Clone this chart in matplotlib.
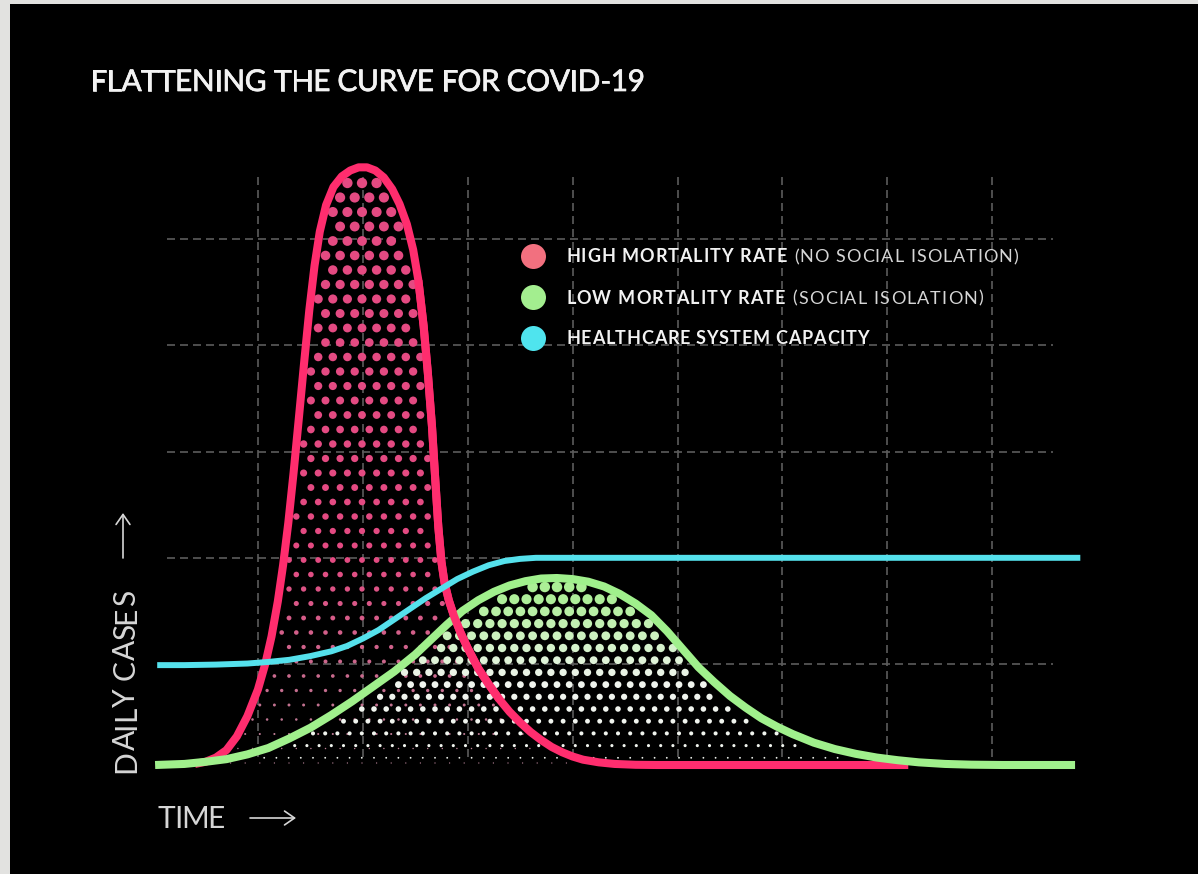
import numpy as np
import matplotlib
matplotlib.use("Agg")
import matplotlib.pyplot as plt
from matplotlib import ft2font
from matplotlib.ft2font import FT2Font
from matplotlib.font_manager import FontProperties, findfont
from matplotlib.patches import Rectangle
from matplotlib.lines import Line2D
from matplotlib import patheffects

# ---------------------------------------------------------------- data
# time axis in days, daily cases in arbitrary units
days_high = [4.0, 5.0, 6.0, 7.0, 8.0, 9.0, 10.0, 10.7, 11.3, 11.9, 12.4, 12.9,
             13.4, 13.9, 14.4, 14.9, 15.4, 15.9, 16.5, 17.2, 18.0, 18.8, 19.6,
             20.4, 21.2, 22.0, 22.8, 23.5, 24.2, 24.8, 25.3, 25.8, 26.2, 26.6,
             26.9, 27.2, 27.5, 27.8, 28.2, 28.7, 29.3, 30.0, 31.0, 32.0, 33.0,
             34.0, 35.0, 36.0, 37.0, 38.0, 39.0, 40.0, 41.0, 42.5, 44.0, 46.0,
             48.0, 72.0]
cases_high = [1, 3, 7, 14, 27, 46, 71, 95, 121, 154, 188, 228,
              275, 326, 378, 428, 470, 502, 527, 544, 554, 559.5, 562.5,
              562.5, 559.5, 553, 542, 528, 509, 485, 456, 413, 369, 318,
              270, 224, 191, 171, 155, 140, 125, 110, 91, 76, 62,
              50, 40, 31, 23.5, 17, 12, 8, 5, 2.5, 1, 0.2,
              0, 0]

days_low = [0.2, 3, 5, 7, 9, 11, 13, 15, 17, 19, 21, 23, 25, 26.5, 28, 29.5,
            31, 32.5, 34, 35.5, 37, 38.5, 40, 41.5, 43, 44.5, 46, 47.5, 49,
            50.5, 52, 53.5, 55, 56.5, 58, 59.5, 61, 63, 65, 67, 69, 71, 73,
            75.5, 78, 81, 87.9]
cases_low = [0, 1, 3, 5.5, 10, 16, 25, 35, 47, 60, 74, 88, 104, 118, 132, 145,
             155, 163, 169, 173, 175.5, 176, 175, 172.5, 168, 161, 152, 141, 126,
             109, 92, 78, 65, 54, 44, 36, 29, 21, 15, 10.5, 7, 4.5, 2.5,
             1, 0.3, 0, 0]

days_capacity = [0.4, 3, 6, 9, 11, 13, 15, 17, 18.5, 20, 21.5, 23, 24.5, 26,
                 27.5, 29, 30.5, 32, 33.5, 35, 36.5, 38, 88.4]
capacity = [94, 94, 94.5, 95.5, 97, 99, 102.5, 107, 112, 119, 127, 137, 147, 157,
            166, 175, 182, 188, 192, 194, 195, 195, 195]

title = "FLATTENING THE CURVE FOR COVID-19"
legend_main = ["HIGH MORTALITY RATE", "LOW MORTALITY RATE", "HEALTHCARE SYSTEM CAPACITY"]
legend_note = [" (NO SOCIAL ISOLATION)", " (SOCIAL ISOLATION)", ""]
x_label = "TIME"
y_label = "DAILY CASES"

# ---------------------------------------------------------------- style
PINK = "#ff2d6e"
GREEN = "#a0f08c"
CYAN = "#55e1ec"
LEGEND_COLORS = ["#f2707f", "#a3ee8f", "#4fe4ee"]
GRID = "#5c5c5c"
TEXT = "#f2f2f2"
SUBTEXT = "#d6d6d6"

W, H, DPI = 1198, 874, 100
# pixel layout of the data frame
X0_PX, PX_PER_DAY = 153.0, 10.49
Y0_PX, PX_PER_CASE = 765.0, 1.0625

fig = plt.figure(figsize=(W / DPI, H / DPI), dpi=DPI, facecolor="#e2e2e0")
fig.add_artist(Rectangle((10 / W, 0), 1, (H - 4) / H, transform=fig.transFigure,
                         facecolor="black", edgecolor="none", zorder=0))

ax = fig.add_axes([0, 0, 1, 1])
ax.set_facecolor("none")
ax.set_xlim(-X0_PX / PX_PER_DAY, (W - X0_PX) / PX_PER_DAY)
ax.set_ylim((Y0_PX - H) / PX_PER_CASE, Y0_PX / PX_PER_CASE)
ax.axis("off")

# ---------------------------------------------------------------- grid
dash = (0, (4.8, 3.0))
ax.vlines(np.arange(10, 81, 10), 7.5, 555, colors=GRID, linewidth=1.2,
          linestyles=[dash], zorder=1)
ax.hlines(np.arange(95, 500, 100), 1.3, 85.8, colors=GRID, linewidth=1.2,
          linestyles=[dash], zorder=1)


# ---------------------------------------------------------------- halftone fill
def halftone(xs, ys, x0, y0, dx, dy, dmax, top_rgb, low_rgb, fade_lo, fade_hi, z):
    xs = np.asarray(xs, float)
    ys = np.asarray(ys, float)
    peak = ys.max()
    hm = 4.5 / PX_PER_DAY
    vm = 4.5 / PX_PER_CASE

    def curve(x):
        return np.interp(x, xs, ys, left=0, right=0)

    px, py = [], []
    for k, yr in enumerate(np.arange(y0 + 2 * dy, 0.5, -dy)):
        start = x0 + ((k % 2) * dx / 2)
        row = start + dx * np.arange(-int(start / dx) - 2, int((95 - start) / dx) + 2)
        limit = np.minimum(np.minimum(curve(row), curve(row - hm)), curve(row + hm)) - vm
        keep = yr <= limit
        px.extend(row[keep])
        py.extend([yr] * int(keep.sum()))
    px = np.array(px)
    py = np.array(py)
    rel = np.clip(py / peak, 0, 1)
    diam = np.maximum(dmax * rel ** 0.55, 1.3)
    t = np.clip((rel - fade_lo) / (fade_hi - fade_lo), 0, 1)[:, None]
    rgb = (np.array(top_rgb) * t + np.array(low_rgb) * (1 - t)) / 255.0
    ax.scatter(px, py, s=(diam * 72 / DPI) ** 2, c=rgb, linewidths=0, zorder=z)


halftone(days_high, cases_high, x0=(362 - X0_PX) / PX_PER_DAY, y0=(Y0_PX - 183) / PX_PER_CASE,
         dx=14.6 / PX_PER_DAY, dy=14.5 / PX_PER_CASE, dmax=10.5,
         top_rgb=(228, 74, 130), low_rgb=(180, 130, 150), fade_lo=0.0, fade_hi=0.35, z=2)
halftone(days_low, cases_low, x0=(557 - X0_PX) / PX_PER_DAY, y0=(Y0_PX - 587) / PX_PER_CASE,
         dx=12.2 / PX_PER_DAY, dy=12.2 / PX_PER_CASE, dmax=10.8,
         top_rgb=(172, 238, 150), low_rgb=(240, 244, 238), fade_lo=0.45, fade_hi=0.9, z=3)

# ---------------------------------------------------------------- curves
dh = np.asarray(days_high)
ch = np.asarray(cases_high)
ax.plot(dh, ch, color=PINK, lw=5.8, solid_capstyle="butt", solid_joinstyle="round", zorder=4)
ax.plot(days_low, cases_low, color=GREEN, lw=5.8, solid_capstyle="butt",
        solid_joinstyle="round", zorder=5)
cross = (dh >= 25) & (dh <= 33)
ax.plot(dh[cross], ch[cross], color=PINK, lw=5.8, solid_capstyle="butt",
        solid_joinstyle="round", zorder=6)
ax.plot(days_capacity, capacity, color=CYAN, lw=4.3, solid_capstyle="butt",
        solid_joinstyle="round", zorder=7)

# ---------------------------------------------------------------- letter-spaced text
try:
    NO_HINT = ft2font.LoadFlags.NO_HINTING
except AttributeError:
    NO_HINT = ft2font.LOAD_NO_HINTING
_fonts = {}

# a few capital pairs that need tightening when set letter by letter (in em)
PAIR_KERN = {("L", "Y"): -0.04, ("L", "T"): -0.04, ("L", "V"): -0.04,
             ("A", "T"): -0.03, ("T", "A"): -0.03, ("A", "V"): -0.03,
             ("V", "A"): -0.03, ("A", "Y"): -0.03, ("Y", "A"): -0.03}


def _font(prop):
    key = (findfont(prop), prop.get_size_in_points())
    if key not in _fonts:
        f = FT2Font(key[0])
        f.set_size(key[1], DPI)
        _fonts[key] = f
    return _fonts[key]


def char_advance(c, prop):
    g = _font(prop).load_char(ord(c), flags=NO_HINT)
    return g.linearHoriAdvance / 65536.0


def spaced_text(x_px, y_px, segments, width_px, vertical=False, effects=None):
    chars = [(c, p, col) for s, p, col in segments for c in s]
    adv = [char_advance(c, p) for c, p, _ in chars]
    kern = [0.0] + [PAIR_KERN.get((chars[i - 1][0], chars[i][0]), 0.0)
                    * chars[i][1].get_size_in_points() * DPI / 72
                    for i in range(1, len(chars))]
    track = (width_px - sum(adv) - sum(kern)) / max(len(chars) - 1, 1)
    pos = 0.0
    for (c, p, col), a, k in zip(chars, adv, kern):
        pos += k
        if c != " ":
            if vertical:
                t = fig.text(x_px / W, 1 - (y_px - pos) / H, c, fontproperties=p, color=col,
                             rotation=90, rotation_mode="anchor", ha="left", va="baseline")
            else:
                t = fig.text((x_px + pos) / W, 1 - y_px / H, c, fontproperties=p, color=col,
                             ha="left", va="baseline")
            if effects:
                t.set_path_effects(effects)
        pos += a + track


title_font = FontProperties(family="Lato", weight="normal", size=21.5)
legend_bold = FontProperties(family="Lato", weight="bold", size=13)
legend_reg = FontProperties(family="Lato", weight="normal", size=13)
label_font = FontProperties(family="Lato", weight="normal", size=21.5)

spaced_text(90, 91, [(title, title_font, TEXT)], 555,
            effects=[patheffects.withStroke(linewidth=0.5, foreground=TEXT)])

row_centres = [256, 297, 338]
row_widths = [452, 417, 303]
for main, note, colr, yc, wd in zip(legend_main, legend_note, LEGEND_COLORS, row_centres, row_widths):
    fig.add_artist(Line2D([533 / W], [1 - yc / H], marker="o", markersize=18,
                          markerfacecolor=colr, markeredgewidth=0, linestyle="none",
                          transform=fig.transFigure))
    segs = [(main, legend_bold, TEXT)]
    if note:
        segs.append((note, legend_reg, SUBTEXT))
    spaced_text(566, yc + 6.5, segs, wd)

spaced_text(158, 828, [(x_label, label_font, SUBTEXT)], 67)
spaced_text(135, 773, [(y_label, label_font, SUBTEXT)], 183, vertical=True)

arrow = dict(arrowstyle="->,head_length=0.36,head_width=0.25", lw=1.2,
             color=SUBTEXT, shrinkA=0, shrinkB=0, mutation_scale=20)
ax.annotate("", xy=(296 / W, 1 - 818 / H), xytext=(250 / W, 1 - 818 / H),
            xycoords="figure fraction", arrowprops=arrow)
ax.annotate("", xy=(123 / W, 1 - 513 / H), xytext=(123 / W, 1 - 558 / H),
            xycoords="figure fraction", arrowprops=arrow)

fig.savefig("out.png", dpi=DPI, facecolor=fig.get_facecolor())
